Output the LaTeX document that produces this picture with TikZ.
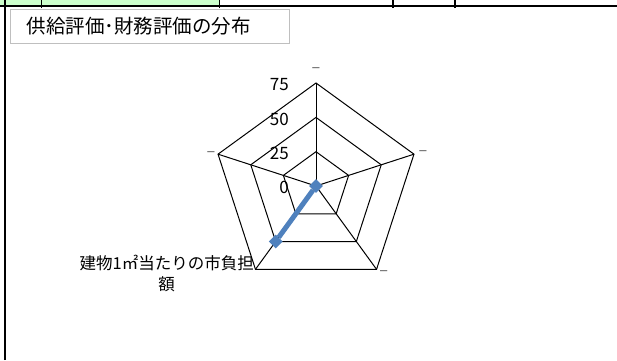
\documentclass[tikz,border=0pt]{standalone}
\usepackage{fontspec}
\setmainfont{Noto Sans CJK JP}
\newfontfamily\latinfont{Liberation Sans}
\usetikzlibrary{shapes.geometric,calc}
\definecolor{serblue}{HTML}{4F81BD}
\definecolor{cellgreen}{HTML}{CCFFCC}
\definecolor{boxgray}{HTML}{BFBFBF}
\tikzset{
  gridline/.style={draw=black,line width=1pt,line join=miter},
  sheetline/.style={draw=black,line width=2pt},
  sheettick/.style={draw=black,line width=1.5pt},
  axislab/.style={font=\fontsize{17}{17}\selectfont,anchor=east,inner sep=0pt},
  dashlab/.style={font=\latinfont\fontsize{13}{13}\selectfont,text=black!70,inner sep=0pt},
  catlab/.style={font=\fontsize{16.5}{21.5}\selectfont,align=center,inner sep=0pt},
  datamark/.style={diamond,fill=serblue,inner sep=0pt,minimum width=14pt,minimum height=14pt},
  series/.style={draw=serblue,line width=5pt},
  titlebox/.style={draw=boxgray,line width=1pt,fill=white,anchor=north west,
    minimum width=279pt,minimum height=34pt,text width=247pt,inner xsep=16pt,
    align=left,font=\fontsize{19.5}{19.5}\selectfont},
}
\begin{document}
\begin{tikzpicture}[x=1pt,y=1pt]
\useasboundingbox (0,0) rectangle (617,360);
\fill[white] (0,0) rectangle (617,360);
% spreadsheet remnants
\fill[cellgreen] (0,354) rectangle (219,360);
\draw[sheetline] (0,354) -- (617,354);
\draw[sheetline] (5,0) -- (5,360);
\foreach \x in {41.7,219.3,393,455} \draw[sheettick] (\x,352) -- (\x,360);
% title
\node[titlebox] (title) at (10,351) {供給評価･財務評価の分布};
% radar grid
\coordinate (c) at (316,174);
\foreach \k in {0,...,4} {
  \foreach \l/\r in {1/34.3,2/68.6,3/103} {
    \coordinate (v\l\k) at ($(c)+({90-72*\k}:\r)$);
  }
}
\foreach \l in {1,2,3} {
  \draw[gridline] (v\l0) -- (v\l1) -- (v\l2) -- (v\l3) -- (v\l4) -- cycle;
}
\foreach \k in {0,...,4} { \draw[gridline] (c) -- (v3\k); }
% axis values
\node[axislab] (a75) at (289,275.5) {75};
\node[axislab] (a50) at (289,241) {50};
\node[axislab] (a25) at (289,206.5) {25};
\node[axislab] (a0)  at (289,172.5) {0};
% category labels
\node[dashlab] (l0) at (316,290) {–};
\node[dashlab] (l1) at (423,207.3) {–};
\node[dashlab] (l2) at (383.7,87.3) {–};
\node[catlab]  (l3) at (166.7,86.7) {建物1㎡当たりの市負担\\額};
\node[dashlab] (l4) at (211,206.5) {–};
% data series
\coordinate (p3) at ($(c)+(-126:68.6)$);
\node[datamark] (m0) at (c) {};
\node[datamark] (m3) at (p3) {};
\draw[series] (m0) -- (m3);
\end{tikzpicture}
\end{document}
